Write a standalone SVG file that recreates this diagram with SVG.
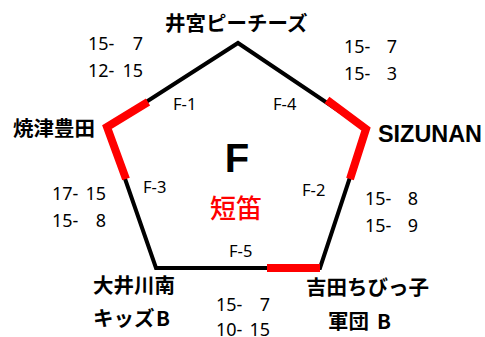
<svg xmlns="http://www.w3.org/2000/svg" width="485" height="337" viewBox="0 0 485 337">
<style>
.team{font-family:"Noto Sans CJK JP","Noto Sans",sans-serif;font-size:20.5px;font-weight:700;fill:#000}
.num{font-family:"Noto Sans","Liberation Sans",sans-serif;font-size:18px;fill:#000}
.lbl{font-family:"Noto Sans","Liberation Sans",sans-serif;font-size:16.5px;fill:#000}
.edge{fill:none;stroke:#000;stroke-width:4;stroke-linejoin:miter}
.hl{fill:none;stroke:#FF0000;stroke-width:8;stroke-linejoin:miter;stroke-linecap:butt}
</style>
<rect width="485" height="337" fill="#fff"/>
<g id="connectors">
<polygon class="edge" points="238,43 366,129 320,268 156,268 107,127"/>
<polyline class="hl" points="148,102 107,127 126,179"/>
<polyline class="hl" points="327,100 366,129 350,179"/>
<polyline class="hl" points="267,268 320,268"/>
</g>
<g id="match-labels">
<text class="lbl" x="173" y="110">F-1</text>
<text class="lbl" x="273" y="110">F-4</text>
<text class="lbl" x="143" y="193">F-3</text>
<text class="lbl" x="302" y="196">F-2</text>
<text class="lbl" x="229" y="257">F-5</text>
</g>
<g id="scores">
<text class="num" x="88" y="50">15-</text><text class="num" x="143" y="50" text-anchor="end">7</text>
<text class="num" x="88" y="77">12-</text><text class="num" x="143" y="77" text-anchor="end">15</text>
<text class="num" x="344" y="53">15-</text><text class="num" x="397" y="53" text-anchor="end">7</text>
<text class="num" x="344" y="80">15-</text><text class="num" x="397" y="80" text-anchor="end">3</text>
<text class="num" x="52" y="200">17-</text><text class="num" x="106" y="200" text-anchor="end">15</text>
<text class="num" x="52" y="227">15-</text><text class="num" x="106" y="227" text-anchor="end">8</text>
<text class="num" x="365" y="205">15-</text><text class="num" x="418" y="205" text-anchor="end">8</text>
<text class="num" x="365" y="232">15-</text><text class="num" x="418" y="232" text-anchor="end">9</text>
<text class="num" x="216" y="311">15-</text><text class="num" x="270" y="311" text-anchor="end">7</text>
<text class="num" x="216" y="336">10-</text><text class="num" x="270" y="336" text-anchor="end">15</text>
</g>
<g id="center">
<text x="237" y="172" text-anchor="middle" font-family="Liberation Sans,Arial,sans-serif" font-size="40" font-weight="700" fill="#000">F</text>
<text x="236" y="218" text-anchor="middle" font-family="Noto Sans CJK JP,sans-serif" font-size="26" font-weight="500" fill="#FF0000">短笛</text>
</g>
<g id="node-inomiya"><text class="team" x="165" y="30.5">井宮ピーチーズ</text></g>
<g id="node-yaizu"><text class="team" x="13" y="135.5">焼津豊田</text></g>
<g id="node-sizunan"><text x="378" y="142" font-family="Liberation Sans,Arial,sans-serif" font-size="23" font-weight="700" fill="#000" textLength="104" lengthAdjust="spacingAndGlyphs">SIZUNAN</text></g>
<g id="node-ooigawa"><text class="team" x="93" y="292.5">大井川南</text><text class="team" x="93" y="326">キッズ<tspan x="156">B</tspan></text></g>
<g id="node-yoshida"><text class="team" x="306" y="294.5">吉田ちびっ子</text><text class="team" x="328" y="328.5">軍団 <tspan x="377">B</tspan></text></g>
</svg>
